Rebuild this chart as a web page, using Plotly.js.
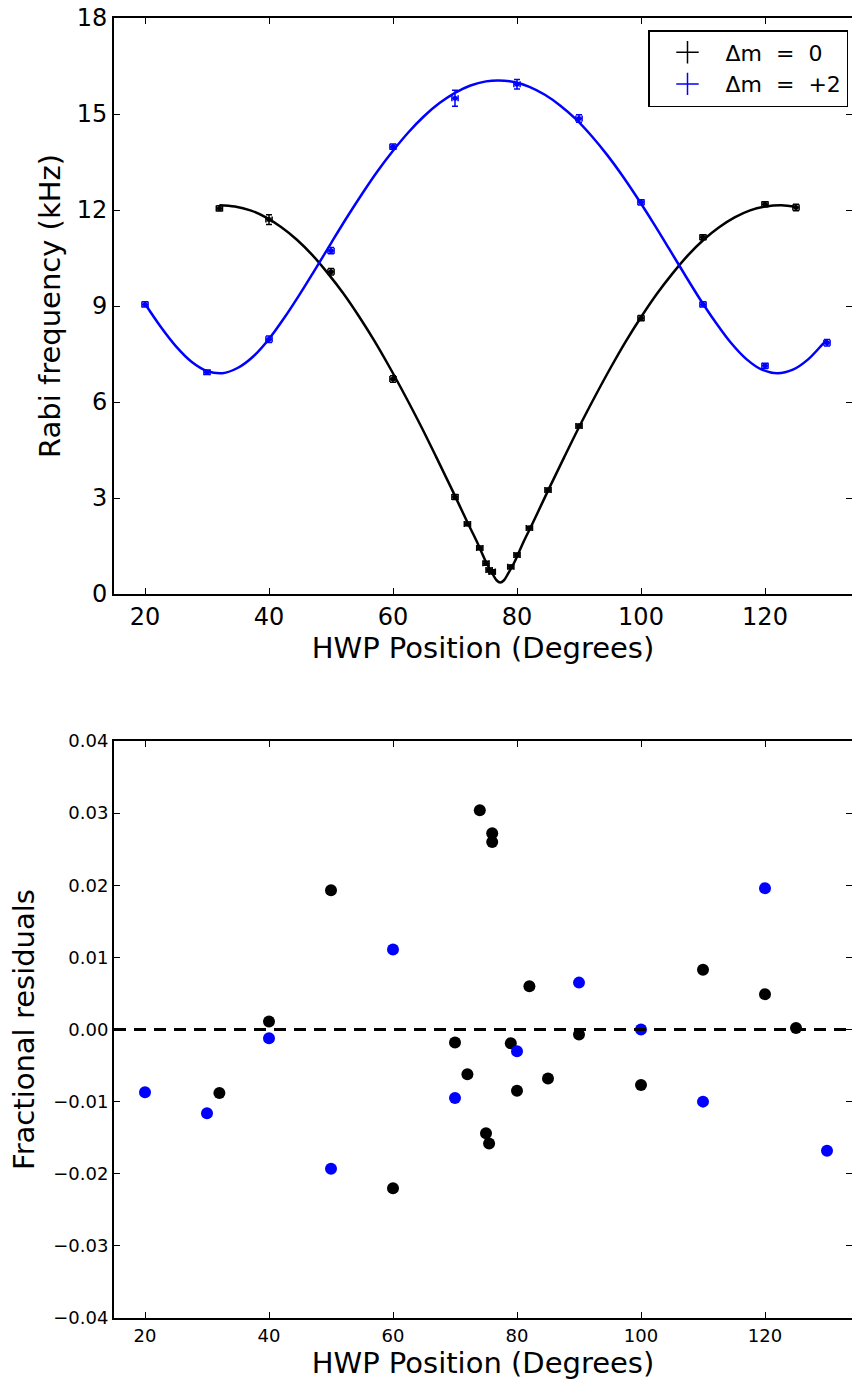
<!DOCTYPE html>
<html>
<head>
<meta charset="utf-8">
<script src="https://cdn.plot.ly/plotly-3.0.1.min.js"></script>
<style>html,body{margin:0;padding:0;background:#fff;}#chart{width:852px;height:1384px;}</style>
</head>
<body>
<div id="chart"></div>
<script>
// Δm = 0 measured Rabi frequencies (kHz)
const xBlack = [32, 40, 50, 60, 70, 72, 74, 75, 75.5, 76, 76, 79, 80, 82, 85, 90, 100, 110, 120, 125];
const yBlack = [12.05, 11.70, 10.07, 6.72, 3.03, 2.19, 1.44, 0.96, 0.75, 0.70, 0.69, 0.85, 1.22, 2.06, 3.25, 5.25, 8.62, 11.15, 12.18, 12.08];
const eBlack = [0.08, 0.15, 0.1, 0.1, 0.08, 0.06, 0.06, 0.06, 0.06, 0.06, 0.06, 0.06, 0.06, 0.06, 0.06, 0.06, 0.08, 0.08, 0.08, 0.1];
// Δm = +2 measured Rabi frequencies (kHz)
const xBlue = [20, 30, 40, 50, 60, 70, 80, 90, 100, 110, 120, 130];
const yBlue = [9.05, 6.93, 7.96, 10.73, 13.98, 15.49, 15.93, 14.86, 12.24, 9.05, 7.13, 7.85];
const eBlue = [0.08, 0.07, 0.1, 0.1, 0.08, 0.25, 0.15, 0.12, 0.08, 0.08, 0.08, 0.1];
const xErr = 0.5;
// fit curves
const fitBlackX = [32, 34.5, 37, 39.5, 42, 44.5, 47, 49.5, 52, 54.5, 57, 59.5, 62, 64.5, 67, 69.5, 72, 73.5, 75, 76, 76.7, 77.3, 77.9, 78.6, 79.6, 81.1, 82.6, 85.1, 87.6, 90.1, 92.6, 95.1, 97.6, 100.1, 102.6, 105.1, 107.6, 110.1, 112.6, 115.1, 117.6, 120.1, 122.6, 125];
const fitBlackY = [12.15, 12.11, 11.99, 11.77, 11.46, 11.07, 10.59, 10.02, 9.39, 8.68, 7.91, 7.07, 6.18, 5.25, 4.27, 3.27, 2.24, 1.65, 1.00, 0.65, 0.43, 0.36, 0.43, 0.65, 1.00, 1.65, 2.24, 3.27, 4.27, 5.25, 6.18, 7.07, 7.91, 8.68, 9.39, 10.02, 10.59, 11.07, 11.46, 11.77, 11.99, 12.11, 12.15, 12.10];
const fitBlueX = [20, 22.5, 25, 27.5, 30, 32.5, 35, 37.5, 40, 42.5, 45, 47.5, 50, 52.5, 55, 57.5, 60, 62.5, 65, 67.5, 70, 72.5, 75, 77, 79.5, 82, 84.5, 87, 89.5, 92, 94.5, 97, 99.5, 102, 104.5, 107, 109.5, 112, 114.5, 117, 119.5, 122, 124.5, 127, 129.5, 130];
const fitBlueY = [9.07, 8.36, 7.74, 7.26, 6.97, 6.90, 7.07, 7.43, 7.97, 8.64, 9.38, 10.16, 10.96, 11.75, 12.50, 13.21, 13.85, 14.43, 14.93, 15.34, 15.66, 15.89, 16.02, 16.05, 16.00, 15.85, 15.60, 15.26, 14.84, 14.32, 13.73, 13.07, 12.35, 11.59, 10.80, 10.00, 9.22, 8.50, 7.85, 7.34, 7.01, 6.90, 7.01, 7.34, 7.85, 7.94];
// fractional residuals
const resBlack = [-0.0088, 0.0011, 0.0193, -0.0220, -0.0018, -0.0062, 0.0304, -0.0144, -0.0158, 0.0272, 0.0260, -0.0019, -0.0085, 0.0060, -0.0068, -0.0007, -0.0077, 0.0083, 0.0049, 0.0002];
const resBlue = [-0.0087, -0.0116, -0.0012, -0.0193, 0.0111, -0.0095, -0.0030, 0.0065, 0.0000, -0.0100, 0.0196, -0.0168];
// ticks and labels
const xTicks = [20, 40, 60, 80, 100, 120];
const yTopTicks = [0, 3, 6, 9, 12, 15, 18];
const yResTicks = [-0.04, -0.03, -0.02, -0.01, 0.00, 0.01, 0.02, 0.03, 0.04];
const yResLabels = ['\u22120.04', '\u22120.03', '\u22120.02', '\u22120.01', '0.00', '0.01', '0.02', '0.03', '0.04'];
const legendNames = ['\u0394m\u00a0\u00a0=\u00a0\u00a00', '\u0394m\u00a0\u00a0=\u00a0\u00a0+2'];

const FONT = 'DejaVu Sans, sans-serif';
const BLUE = '#0000ff';

const traces = [
  {x: fitBlackX, y: fitBlackY, mode: 'lines', line: {color: 'black', width: 2.5, shape: 'spline', smoothing: 1}, showlegend: false, hoverinfo: 'skip', xaxis: 'x', yaxis: 'y'},
  {x: fitBlueX, y: fitBlueY, mode: 'lines', line: {color: BLUE, width: 2.5, shape: 'spline', smoothing: 1}, showlegend: false, hoverinfo: 'skip', xaxis: 'x', yaxis: 'y'},
  {x: xBlack, y: yBlack, mode: 'markers', marker: {color: 'black', size: 5}, showlegend: false,
   error_y: {type: 'data', array: eBlack, visible: true, color: 'black', thickness: 1.5, width: 3},
   error_x: {type: 'constant', value: xErr, visible: true, color: 'black', thickness: 1.5, width: 3},
   xaxis: 'x', yaxis: 'y'},
  {x: xBlue, y: yBlue, mode: 'markers', marker: {color: BLUE, size: 5}, showlegend: false,
   error_y: {type: 'data', array: eBlue, visible: true, color: BLUE, thickness: 1.5, width: 3},
   error_x: {type: 'constant', value: xErr, visible: true, color: BLUE, thickness: 1.5, width: 3},
   xaxis: 'x', yaxis: 'y'},
  // legend entries (errorbar-style glyphs)
  {x: [null], y: [null], name: legendNames[0], mode: 'markers',
   marker: {symbol: 'cross-thin-open', size: 24, color: 'black', line: {color: 'black', width: 1.5}}, xaxis: 'x', yaxis: 'y'},
  {x: [null], y: [null], name: legendNames[1], mode: 'markers',
   marker: {symbol: 'cross-thin-open', size: 24, color: BLUE, line: {color: BLUE, width: 1.5}}, xaxis: 'x', yaxis: 'y'},
  {x: xBlack, y: resBlack, mode: 'markers', marker: {color: 'black', size: 12}, showlegend: false, xaxis: 'x2', yaxis: 'y2'},
  {x: xBlue, y: resBlue, mode: 'markers', marker: {color: BLUE, size: 12}, showlegend: false, xaxis: 'x2', yaxis: 'y2'}
];

const W = 852, H = 1384;
const L = 114;
const pxPerDeg = 6.2;
const xMax = 15 + (W - L) / pxPerDeg;

function xa(tickSize) {
  return {
    range: [15, xMax], tickvals: xTicks, ticks: 'inside', ticklen: 6, tickwidth: 1, tickcolor: 'black',
    showline: true, linecolor: 'black', linewidth: 2, mirror: 'ticks', showgrid: false, zeroline: false,
    tickfont: {family: FONT, size: tickSize, color: 'black'},
    title: {text: 'HWP Position (Degrees)', font: {family: FONT, size: 29, color: 'black'}, standoff: 6}
  };
}

const layout = {
  width: W, height: H,
  margin: {l: L, r: 0, t: 0, b: 0},
  paper_bgcolor: 'white', plot_bgcolor: 'white',
  font: {family: FONT, color: 'black'},
  xaxis: Object.assign(xa(24), {anchor: 'y', domain: [0, 1]}),
  yaxis: {
    anchor: 'x', domain: [(H - 594) / H, (H - 18) / H], range: [0, 18], tickvals: yTopTicks,
    ticks: 'inside', ticklen: 6, tickwidth: 1, tickcolor: 'black',
    showline: true, linecolor: 'black', linewidth: 2, mirror: 'ticks', showgrid: false, zeroline: false,
    tickfont: {family: FONT, size: 24, color: 'black'},
    title: {text: 'Rabi frequency (kHz)', font: {family: FONT, size: 29, color: 'black'}, standoff: 8}
  },
  xaxis2: Object.assign(xa(18), {anchor: 'y2', domain: [0, 1]}),
  yaxis2: {
    anchor: 'x2', domain: [(H - 1318) / H, (H - 741) / H], range: [-0.04, 0.04],
    tickvals: yResTicks, ticktext: yResLabels,
    ticks: 'inside', ticklen: 6, tickwidth: 1, tickcolor: 'black',
    showline: true, linecolor: 'black', linewidth: 2, mirror: 'ticks', showgrid: false, zeroline: false,
    tickfont: {family: FONT, size: 18, color: 'black'},
    title: {text: 'Fractional residuals', font: {family: FONT, size: 29, color: 'black'}, standoff: 10}
  },
  shapes: [
    {type: 'line', xref: 'x2 domain', yref: 'y2', x0: 0, x1: 1, y0: 0, y1: 0,
     line: {color: 'black', width: 3, dash: '12px,8px'}}
  ],
  legend: {
    x: (648 - L) / (W - L), y: (H - 30) / H, xanchor: 'left', yanchor: 'top',
    bgcolor: 'white', bordercolor: 'black', borderwidth: 1.5,
    font: {family: FONT, size: 22, color: 'black'},
    itemwidth: 66
  },
  showlegend: true
};

Plotly.newPlot('chart', traces, layout, {displayModeBar: false, staticPlot: true});
</script>
</body>
</html>
